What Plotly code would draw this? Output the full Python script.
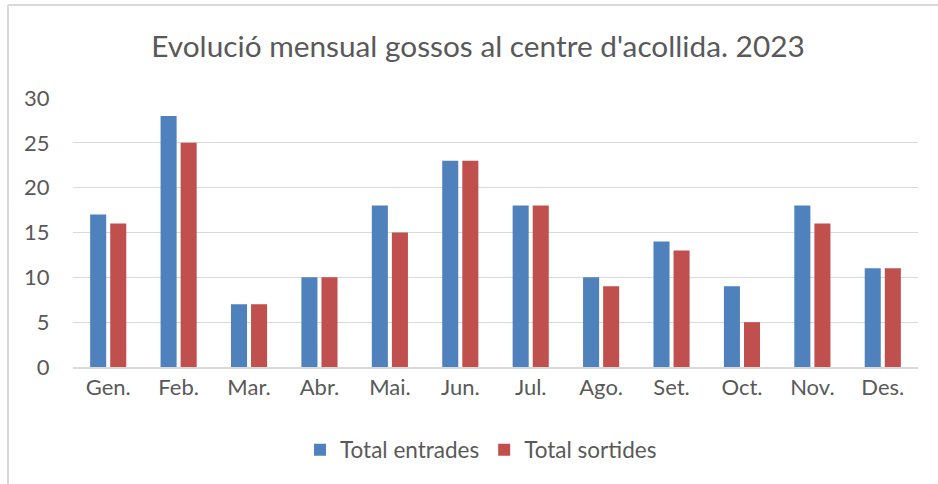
import plotly.graph_objects as go

months = ["Gen.", "Feb.", "Mar.", "Abr.", "Mai.", "Jun.", "Jul.", "Ago.", "Set.", "Oct.", "Nov.", "Des."]
entrades = [17, 28, 7, 10, 18, 23, 18, 10, 14, 9, 18, 11]
sortides = [16, 25, 7, 10, 15, 23, 18, 9, 13, 5, 16, 11]

FONT = "Lato"
TXT = "#595959"

fig = go.Figure()
fig.add_trace(go.Bar(x=months, y=entrades, name="Total entrades",
                     marker=dict(color="#4F81BD", line=dict(width=0))))
fig.add_trace(go.Bar(x=months, y=sortides, name="Total sortides",
                     marker=dict(color="#C0504D", line=dict(width=0))))

L, R, T, B = 73, 20, 98, 117
PW, PH = 938 - L - R, 484 - T - B

fig.update_layout(
    width=938, height=484,
    margin=dict(l=L, r=R, t=T, b=B, autoexpand=False),
    paper_bgcolor="white", plot_bgcolor="white",
    barmode="group", bargap=0.43, bargroupgap=0.2,
    font=dict(family=FONT, color=TXT, size=22),
    title=dict(text="Evolució mensual gossos al centre d'acollida. 2023",
               x=478 / 938, xanchor="center", y=1 - 47 / 484, yanchor="middle",
               font=dict(family=FONT, size=29.8, color=TXT)),
    xaxis=dict(showgrid=False, showline=True, linecolor="#D9D9D9", linewidth=2,
               ticks="", tickfont=dict(size=22, color=TXT)),
    yaxis=dict(range=[0, 30], dtick=5, showgrid=True, gridcolor="#D9D9D9", gridwidth=1,
               zeroline=False, showline=False, ticks="", ticksuffix="    ",
               tickfont=dict(size=22, color=TXT)),
    legend=dict(orientation="h", x=(481 - L) / PW, xanchor="center", y=-(450 - 98 - PH) / PH, yanchor="middle",
                font=dict(size=22.5, color=TXT), itemwidth=30, traceorder="normal"),
    shapes=[dict(type="line", xref="paper", yref="paper",
                 x0=(8 - L) / PW, x1=(8 - L) / PW, y0=-2.0, y1=(T - 5) / PH + 1,
                 line=dict(color="#D9D9D9", width=2)),
            dict(type="line", xref="paper", yref="paper",
                 x0=(8 - L) / PW, x1=1.5, y0=(T - 5) / PH + 1, y1=(T - 5) / PH + 1,
                 line=dict(color="#D9D9D9", width=2))],
)

fig.write_html("out.html", config={"displayModeBar": False},
               post_script="document.body.style.margin='0';")
